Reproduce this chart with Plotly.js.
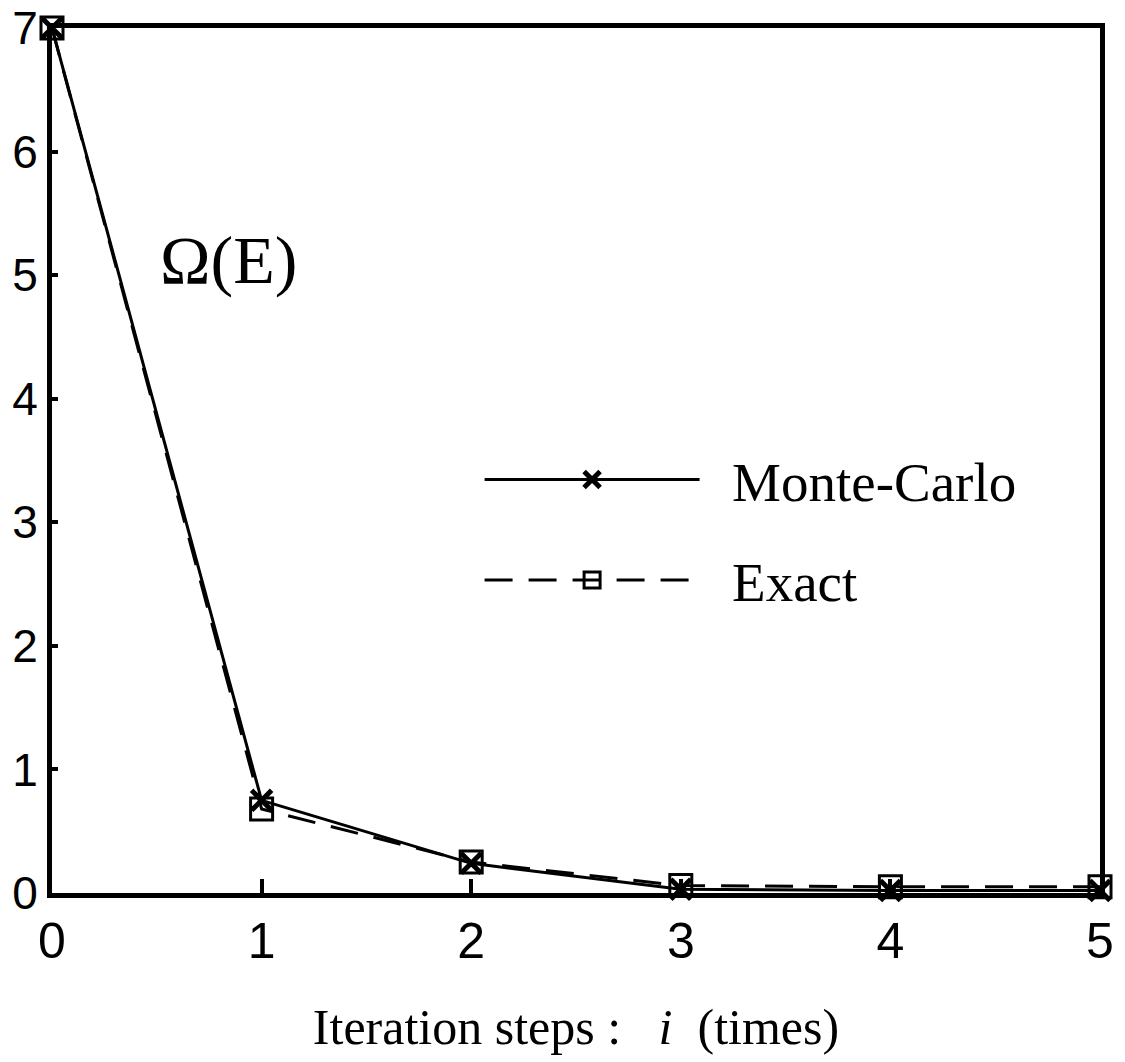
<!DOCTYPE html>
<html>
<head>
<meta charset="utf-8">
<script src="https://cdn.plot.ly/plotly-3.0.1.min.js"></script>
<style>html,body{margin:0;padding:0;background:#fff;}#chart{width:1125px;height:1062px;}</style>
</head>
<body>
<div id="chart"></div>
<script>
const steps = [0, 1, 2, 3, 4, 5];
const monteCarlo = [7, 0.75, 0.24, 0.03, 0.02, 0.02];
const exact = [7, 0.68, 0.25, 0.06, 0.05, 0.05];
const xTicks = [0, 1, 2, 3, 4, 5];
const yTicks = [0, 1, 2, 3, 4, 5, 6, 7];
const seriesNames = ['Monte-Carlo', 'Exact'];

const traces = [
  {
    x: steps, y: monteCarlo, name: '\u00a0\u00a0' + seriesNames[0], type: 'scatter', mode: 'lines+markers',
    legendgroup: 'a', cliponaxis: false,
    line: {color: '#000', width: 3, dash: 'solid'},
    marker: {symbol: 'x-thin', size: 20, color: '#000', line: {color: '#000', width: 5}}
  },
  {
    x: steps, y: exact, name: '\u00a0\u00a0' + seriesNames[1], type: 'scatter', mode: 'lines+markers',
    legendgroup: 'b', cliponaxis: false,
    line: {color: '#000', width: 3, dash: '28px,16px'},
    marker: {symbol: 'square-open', size: 22, color: '#000', line: {color: '#000', width: 3}}
  }
];

const layout = {
  width: 1125, height: 1062,
  margin: {l: 52, r: 25, t: 28, b: 169},
  paper_bgcolor: '#fff', plot_bgcolor: '#fff',
  showlegend: true,
  legend: {
    x: 0.408, y: 0.527, xanchor: 'left', yanchor: 'top',
    bgcolor: 'rgba(0,0,0,0)', borderwidth: 0,
    font: {family: 'Liberation Serif', size: 55, color: '#000'},
    itemwidth: 215, tracegroupgap: 26
  },
  xaxis: {
    range: [0, 5], tickvals: xTicks, ticktext: xTicks.map(String),
    showgrid: false, zeroline: false,
    showline: true, linewidth: 5, linecolor: '#000', mirror: true,
    ticks: 'inside', ticklen: 14, tickwidth: 4, tickcolor: '#000',
    ticklabeloverflow: 'allow',
    tickfont: {family: 'Liberation Sans', size: 50, color: '#000'},
    title: {text: 'Iteration steps :   <i>i</i>  (times)', standoff: 42,
            font: {family: 'Liberation Serif', size: 50, color: '#000'}}
  },
  yaxis: {
    range: [0, 7], tickvals: yTicks, ticktext: yTicks.map(String),
    showgrid: false, zeroline: false,
    showline: true, linewidth: 5, linecolor: '#000', mirror: true,
    ticks: 'inside', ticklen: 6, tickwidth: 4, tickcolor: '#000',
    ticklabeloverflow: 'allow',
    tickfont: {family: 'Liberation Sans', size: 46, color: '#000'}
  },
  annotations: [
    {x: 0.84, y: 5.12, xref: 'x', yref: 'y', text: 'Ω(E)', showarrow: false,
     font: {family: 'Liberation Serif', size: 68, color: '#000'}}
  ]
};

Plotly.newPlot('chart', traces, layout, {displayModeBar: false});
</script>
</body>
</html>
